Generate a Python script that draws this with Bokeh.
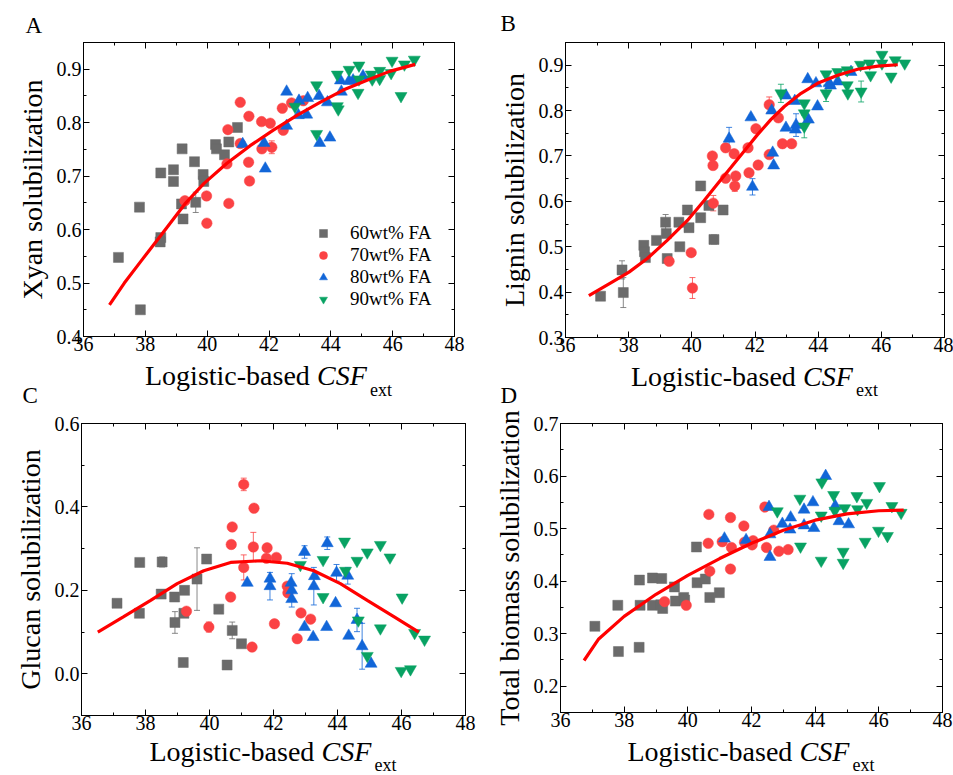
from bokeh.plotting import figure
from bokeh.layouts import column, row
from bokeh.models import (LinearAxis, FixedTicker, Range1d, Whisker, TeeHead, Label,
                          ColumnDataSource, Legend, LegendItem, NumeralTickFormatter)
from bokeh.embed import file_html
from bokeh.resources import INLINE

FONT = "Liberation Serif"
GRAY, RED, BLUE, GREEN = "#6b6b6b", "#fb4244", "#1266d8", "#08a263"
SERIES = ["60wt% FA", "70wt% FA", "80wt% FA", "90wt% FA"]
XLABEL = ["Logistic-based", "CSF", "ext"]
PANEL_LETTERS = ["A", "B", "C", "D"]
YLABELS = ["Xyan solubilization", "Lignin solubilization",
           "Glucan solubilization", "Total biomass solubilization"]

X_TICKS = [36, 38, 40, 42, 44, 46, 48]
X_MINOR = [37, 39, 41, 43, 45, 47]

# ---------------- Panel A: Xyan solubilization ----------------
A60_x = [37.13, 37.84, 37.81, 38.50, 38.50, 38.48, 38.91, 38.91, 39.19, 39.17, 39.22, 39.59, 39.63, 39.87, 39.89, 40.27, 40.30, 40.56, 40.70, 40.98]
A60_y = [0.548, 0.450, 0.642, 0.706, 0.585, 0.577, 0.712, 0.690, 0.751, 0.648, 0.620, 0.727, 0.651, 0.703, 0.690, 0.759, 0.751, 0.740, 0.764, 0.791]
A70_x = [39.28, 39.98, 39.99, 40.64, 40.67, 40.70, 41.07, 41.07, 41.35, 41.34, 41.37, 41.76, 42.04, 41.77, 42.09, 42.43, 42.46, 42.73, 43.11]
A70_y = [0.654, 0.663, 0.612, 0.723, 0.787, 0.649, 0.838, 0.761, 0.812, 0.726, 0.691, 0.802, 0.799, 0.751, 0.754, 0.827, 0.786, 0.837, 0.841]
A80_x = [41.15, 41.84, 41.88, 42.57, 42.57, 42.97, 42.95, 43.25, 43.22, 43.62, 43.89, 43.64, 43.97, 44.31, 44.59, 44.72, 45.04, 44.34]
A80_y = [0.760, 0.762, 0.714, 0.858, 0.794, 0.841, 0.814, 0.846, 0.815, 0.850, 0.838, 0.762, 0.772, 0.879, 0.878, 0.879, 0.887, 0.858]
A90_x = [42.84, 43.54, 43.54, 44.21, 44.21, 44.24, 44.59, 44.91, 44.88, 44.91, 45.31, 45.34, 45.58, 45.58, 45.95, 45.98, 46.27, 46.38, 46.70]
A90_y = [0.830, 0.870, 0.779, 0.890, 0.831, 0.825, 0.899, 0.907, 0.856, 0.881, 0.890, 0.881, 0.897, 0.882, 0.893, 0.916, 0.850, 0.909, 0.918]
A_FIT_x = [36.84, 37.32, 37.86, 38.50, 39.28, 39.89, 40.64, 41.39, 42.14, 42.89, 43.65, 44.40, 45.15, 45.90, 46.73]
A_FIT_y = [0.459, 0.500, 0.541, 0.589, 0.648, 0.686, 0.724, 0.757, 0.786, 0.813, 0.838, 0.861, 0.879, 0.896, 0.909]
A_ERR_grp = [0, 1]
A_ERR_x = [39.63, 42.09]
A_ERR_y = [0.651, 0.754]
A_ERR_e = [0.019, 0.012]

# ---------------- Panel B: Lignin solubilization ----------------
B60_x = [37.11, 37.83, 37.79, 38.48, 38.50, 38.53, 38.88, 39.17, 39.19, 39.22, 39.59, 39.62, 39.86, 39.91, 40.28, 40.28, 40.54, 40.70, 40.99]
B60_y = [0.391, 0.399, 0.449, 0.503, 0.489, 0.476, 0.514, 0.554, 0.529, 0.474, 0.554, 0.500, 0.581, 0.542, 0.564, 0.634, 0.591, 0.516, 0.581]
B70_x = [39.28, 39.98, 40.02, 40.65, 40.67, 40.68, 41.07, 41.07, 41.34, 41.39, 41.36, 41.78, 41.81, 42.03, 42.10, 42.45, 42.45, 42.74, 42.87, 43.16]
B70_y = [0.468, 0.487, 0.409, 0.700, 0.679, 0.596, 0.718, 0.651, 0.705, 0.656, 0.634, 0.718, 0.663, 0.760, 0.680, 0.813, 0.703, 0.784, 0.727, 0.727]
B80_x = [41.18, 41.87, 41.92, 42.56, 42.59, 42.53, 42.98, 42.98, 43.26, 43.30, 43.28, 43.69, 43.67, 43.93, 43.98, 44.35, 44.39, 44.62, 45.04]
B80_y = [0.738, 0.785, 0.632, 0.707, 0.679, 0.800, 0.833, 0.762, 0.821, 0.768, 0.758, 0.780, 0.869, 0.860, 0.809, 0.860, 0.855, 0.864, 0.885]
B90_x = [42.82, 43.56, 43.56, 43.56, 44.25, 44.25, 44.62, 44.92, 44.92, 44.94, 45.36, 45.34, 45.63, 45.66, 46.02, 46.02, 46.31, 46.44, 46.74]
B90_y = [0.838, 0.816, 0.794, 0.765, 0.880, 0.838, 0.885, 0.889, 0.856, 0.838, 0.842, 0.901, 0.904, 0.878, 0.923, 0.904, 0.875, 0.911, 0.904]
B_FIT_x = [36.74, 37.42, 38.01, 38.59, 39.22, 39.86, 40.39, 40.81, 41.23, 41.66, 42.08, 42.50, 42.93, 43.46, 43.98, 44.62, 45.25, 45.89, 46.52]
B_FIT_y = [0.392, 0.420, 0.444, 0.474, 0.514, 0.558, 0.602, 0.638, 0.674, 0.711, 0.747, 0.780, 0.809, 0.838, 0.860, 0.878, 0.891, 0.898, 0.901]
B_ERR_grp = [0, 0, 0, 0, 1, 1, 1, 1, 2, 2, 2, 3, 3, 3, 3]
B_ERR_x = [37.83, 37.79, 39.17, 40.70, 40.02, 40.68, 41.36, 42.45, 41.18, 41.92, 43.30, 42.82, 44.25, 45.36, 43.56]
B_ERR_y = [0.399, 0.449, 0.554, 0.516, 0.409, 0.596, 0.634, 0.813, 0.738, 0.632, 0.768, 0.838, 0.838, 0.842, 0.765]
B_ERR_e = [0.033, 0.020, 0.017, 0.010, 0.023, 0.017, 0.012, 0.017, 0.025, 0.018, 0.025, 0.020, 0.018, 0.023, 0.025]

# ---------------- Panel C: Glucan solubilization ----------------
C60_x = [37.11, 37.82, 37.81, 38.52, 38.49, 38.91, 38.92, 39.20, 39.22, 39.18, 39.61, 39.91, 40.29, 40.71, 40.55, 41.00]
C60_y = [0.169, 0.267, 0.145, 0.268, 0.191, 0.184, 0.123, 0.145, 0.200, 0.027, 0.227, 0.275, 0.155, 0.104, 0.021, 0.072]
C70_x = [39.28, 39.98, 40.66, 40.68, 40.71, 41.07, 41.07, 41.39, 41.37, 41.33, 41.80, 41.78, 42.09, 42.03, 42.43, 42.45, 42.86, 43.16, 42.74]
C70_y = [0.150, 0.112, 0.184, 0.310, 0.352, 0.454, 0.255, 0.397, 0.304, 0.064, 0.302, 0.277, 0.279, 0.120, 0.210, 0.194, 0.146, 0.131, 0.084]
C80_x = [41.18, 41.89, 41.89, 42.55, 42.57, 42.57, 42.97, 42.97, 43.28, 43.26, 43.24, 43.68, 43.66, 43.97, 43.94, 44.32, 44.35, 44.61, 44.77, 45.05]
C80_y = [0.218, 0.228, 0.210, 0.218, 0.200, 0.179, 0.292, 0.112, 0.234, 0.210, 0.088, 0.313, 0.112, 0.242, 0.169, 0.235, 0.091, 0.129, 0.066, 0.024]
C90_x = [42.84, 43.55, 43.55, 44.22, 44.25, 44.61, 44.65, 44.93, 44.93, 45.34, 45.34, 45.64, 46.02, 45.99, 46.28, 46.41, 46.72]
C90_y = [0.261, 0.273, 0.184, 0.317, 0.247, 0.271, 0.128, 0.291, 0.043, 0.309, 0.109, 0.279, 0.183, 0.007, 0.011, 0.098, 0.082]
C_FIT_x = [36.51, 37.32, 38.16, 38.99, 39.82, 40.66, 41.59, 42.43, 43.26, 44.09, 44.93, 45.76, 46.54]
C_FIT_y = [0.100, 0.137, 0.176, 0.216, 0.247, 0.267, 0.271, 0.265, 0.247, 0.216, 0.176, 0.137, 0.100]
C_ERR_grp = [0, 0, 0, 0, 1, 1, 1, 1, 2, 2, 2, 2, 2, 2, 2, 2, 2]
C_ERR_x = [39.61, 38.92, 40.71, 38.52, 41.07, 41.07, 41.37, 39.98, 44.77, 44.61, 41.89, 43.26, 43.68, 44.32, 42.57, 43.97, 42.97]
C_ERR_y = [0.227, 0.123, 0.104, 0.268, 0.454, 0.255, 0.304, 0.112, 0.066, 0.129, 0.210, 0.210, 0.313, 0.235, 0.200, 0.242, 0.292]
C_ERR_e = [0.075, 0.026, 0.020, 0.012, 0.015, 0.030, 0.035, 0.012, 0.055, 0.028, 0.033, 0.045, 0.015, 0.020, 0.040, 0.020, 0.015]

# ---------------- Panel D: Total biomass solubilization ----------------
D60_x = [37.08, 37.80, 37.82, 38.47, 38.48, 38.50, 38.89, 38.89, 39.18, 39.15, 39.21, 39.58, 39.61, 39.87, 39.90, 40.27, 40.29, 40.55, 40.69, 40.99]
D60_y = [0.314, 0.354, 0.266, 0.274, 0.402, 0.354, 0.406, 0.354, 0.405, 0.355, 0.348, 0.389, 0.362, 0.369, 0.364, 0.465, 0.397, 0.404, 0.369, 0.378]
D70_x = [39.27, 39.95, 40.66, 40.64, 40.69, 41.08, 41.34, 41.37, 41.34, 41.76, 41.78, 42.05, 42.02, 42.42, 42.47, 42.70, 42.86, 43.15]
D70_y = [0.361, 0.354, 0.527, 0.472, 0.419, 0.475, 0.521, 0.464, 0.423, 0.505, 0.474, 0.477, 0.469, 0.541, 0.464, 0.497, 0.457, 0.460]
D80_x = [41.15, 41.83, 42.55, 42.58, 42.58, 42.97, 43.23, 43.21, 43.65, 43.65, 43.93, 43.96, 44.33, 44.63, 44.75, 45.05]
D80_y = [0.481, 0.478, 0.541, 0.489, 0.446, 0.509, 0.521, 0.498, 0.536, 0.506, 0.550, 0.501, 0.600, 0.543, 0.514, 0.508]
D90_x = [42.81, 43.52, 43.54, 44.21, 44.19, 44.19, 44.58, 44.62, 44.88, 44.88, 44.93, 45.31, 45.33, 45.62, 45.57, 46.02, 45.99, 46.27, 46.41, 46.70]
D90_y = [0.533, 0.557, 0.466, 0.588, 0.525, 0.439, 0.564, 0.534, 0.456, 0.435, 0.539, 0.562, 0.537, 0.549, 0.475, 0.581, 0.496, 0.486, 0.543, 0.530]
D_FIT_x = [36.74, 37.20, 38.00, 39.00, 40.00, 41.00, 42.00, 43.00, 44.00, 45.00, 46.00, 46.78]
D_FIT_y = [0.249, 0.290, 0.333, 0.375, 0.411, 0.443, 0.472, 0.497, 0.516, 0.528, 0.534, 0.535]


COLORS = [GRAY, RED, BLUE, GREEN]
MARKERS = ["square", "circle", "triangle", "inverted_triangle"]
SIZES = [10, 10.5, 12, 12]

# ---- layout (pixels) ----
PAGE_W = 953
COL_SPLIT = 490                 # left column width
H_STRIP1, H_ROW1, H_STRIP2, H_ROW2, H_STRIP3 = 38, 321, 49, 327, 40
# frame: (left, top_in_row, width, height)
FRAMES = {
    "A": (83, 4, 371, 294),
    "B": (565, 3, 379, 295),
    "C": (81, 12, 384, 292),
    "D": (560, 15, 382, 289),
}
MID = 0.337   # baseline offset of a "middle"-anchored line, in font sizes
SUB_DROP = 11


def style_axis(ax, ticks, minor, fmt, show, standoff):
    ax.ticker = FixedTicker(ticks=ticks, minor_ticks=minor)
    ax.formatter = NumeralTickFormatter(format=fmt)
    ax.axis_line_color = "black"
    ax.axis_line_width = 1
    ax.major_tick_in = 6
    ax.major_tick_out = 0
    ax.minor_tick_in = 3
    ax.minor_tick_out = 0
    ax.major_tick_line_color = "black"
    ax.minor_tick_line_color = "black"
    ax.major_label_text_font = FONT
    ax.major_label_text_font_size = "20px"
    ax.major_label_text_color = "black"
    ax.major_label_standoff = standoff
    if not show:
        ax.major_label_overrides = {t: "" for t in ticks}
        ax.major_label_text_font_size = "0px"
        ax.major_label_standoff = 0


def make_panel(key, ylabel, yr, yticks, yminor, xs, ys, fit_x, fit_y,
               err, row_h, col_x0, col_w, legend_loc=None):
    fl, ft, fw, fh = FRAMES[key]
    bl = fl - col_x0
    br = col_w - bl - fw
    bt = ft
    bb = row_h - ft - fh
    p = figure(frame_width=fw, frame_height=fh,
               min_border_left=bl, min_border_right=br,
               min_border_top=bt, min_border_bottom=bb,
               x_range=Range1d(36, 48), y_range=Range1d(*yr),
               x_axis_type=None, y_axis_type=None,
               output_backend="svg", toolbar_location=None)
    p.outline_line_color = "black"
    p.outline_line_width = 1
    p.background_fill_color = "white"
    p.border_fill_color = "white"

    for side, show in (("below", True), ("above", False)):
        ax = LinearAxis()
        style_axis(ax, X_TICKS, X_MINOR, "0", show, 0)
        p.add_layout(ax, side)
    for side, show in (("left", True), ("right", False)):
        ax = LinearAxis()
        style_axis(ax, yticks, yminor, "0.0", show, 2)
        if show:
            ax.axis_label = ylabel
            ax.axis_label_text_font = FONT
            ax.axis_label_text_font_size = "28px"
            ax.axis_label_text_font_style = "normal"
            ax.axis_label_text_color = "black"
            ax.axis_label_standoff = 6
        p.add_layout(ax, side)

    if err is not None:
        grp, ex, ey, ee = err
        for g in range(4):
            idx = [i for i in range(len(grp)) if grp[i] == g]
            if not idx:
                continue
            src = ColumnDataSource(dict(x=[ex[i] for i in idx],
                                        up=[ey[i] + ee[i] for i in idx],
                                        lo=[ey[i] - ee[i] for i in idx]))
            w = Whisker(base="x", upper="up", lower="lo", source=src,
                        dimension="height", line_color=COLORS[g], line_width=1,
                        line_alpha=0.8,
                        upper_head=TeeHead(size=6, line_color=COLORS[g], line_alpha=0.8),
                        lower_head=TeeHead(size=6, line_color=COLORS[g], line_alpha=0.8))
            p.add_layout(w)

    rends = []
    for g in range(4):
        r = p.scatter(xs[g], ys[g], marker=MARKERS[g], size=SIZES[g],
                      fill_color=COLORS[g], line_color=COLORS[g], line_width=0.5)
        rends.append(r)
    p.line(fit_x, fit_y, line_color="#ff0000", line_width=3.2)

    if legend_loc is not None:
        leg = Legend(items=[LegendItem(label=SERIES[g], renderers=[rends[g]]) for g in range(4)],
                     location=legend_loc, border_line_color=None,
                     background_fill_alpha=0, label_text_font=FONT,
                     label_text_font_size="19px", label_text_color="black",
                     glyph_width=20, glyph_height=20, label_height=20,
                     label_standoff=17, spacing=0, padding=0, margin=0)
        p.add_layout(leg)
    return p


def put_text(s, h, xs, baselines, texts, size, style="normal"):
    for x, b, t in zip(xs, baselines, texts):
        s.add_layout(Label(x=x, y=h - (b - MID * size), x_units="screen", y_units="screen",
                           text=t, text_font=FONT, text_font_size=f"{size}px",
                           text_font_style=style, text_baseline="middle",
                           text_align="left", text_color="black"))


def strip(h, letters, xlabels):
    """Text strip: letters = [(text, x, baseline)], xlabels = [(center_x, baseline)]"""
    s = figure(width=PAGE_W, height=h, x_range=Range1d(0, PAGE_W), y_range=Range1d(0, h),
               x_axis_type=None, y_axis_type=None,
               min_border_left=0, min_border_right=0, min_border_top=0, min_border_bottom=0,
               title=None, output_backend="svg", toolbar_location=None)
    s.outline_line_color = None
    s.background_fill_color = "white"
    s.border_fill_color = "white"
    if letters:
        put_text(s, h, [l[1] for l in letters], [l[2] for l in letters],
                 [l[0] for l in letters], 23)
    if xlabels:
        x0 = [c - 124 for c, b in xlabels]
        base = [b for c, b in xlabels]
        put_text(s, h, x0, base, [XLABEL[0]] * len(x0), 28)
        put_text(s, h, [v + 172 for v in x0], base, [XLABEL[1]] * len(x0), 28, "italic")
        put_text(s, h, [v + 225 for v in x0], [b + SUB_DROP for b in base], [XLABEL[2]] * len(x0), 18)
    return s


def fcenter(k):
    fl, ft, fw, fh = FRAMES[k]
    return fl + fw / 2


pA = make_panel("A", YLABELS[0], (0.4, 0.95),
                [0.4, 0.5, 0.6, 0.7, 0.8, 0.9], [0.45, 0.55, 0.65, 0.75, 0.85, 0.95],
                [A60_x, A70_x, A80_x, A90_x], [A60_y, A70_y, A80_y, A90_y],
                A_FIT_x, A_FIT_y, (A_ERR_grp, A_ERR_x, A_ERR_y, A_ERR_e),
                H_ROW1, 0, COL_SPLIT, legend_loc=(230, 26))
pB = make_panel("B", YLABELS[1], (0.3, 0.95),
                [0.3, 0.4, 0.5, 0.6, 0.7, 0.8, 0.9], [0.35, 0.45, 0.55, 0.65, 0.75, 0.85, 0.95],
                [B60_x, B70_x, B80_x, B90_x], [B60_y, B70_y, B80_y, B90_y],
                B_FIT_x, B_FIT_y, (B_ERR_grp, B_ERR_x, B_ERR_y, B_ERR_e),
                H_ROW1, COL_SPLIT, PAGE_W - COL_SPLIT)
pC = make_panel("C", YLABELS[2], (-0.1, 0.6),
                [0.0, 0.2, 0.4, 0.6], [-0.1, 0.1, 0.3, 0.5],
                [C60_x, C70_x, C80_x, C90_x], [C60_y, C70_y, C80_y, C90_y],
                C_FIT_x, C_FIT_y, (C_ERR_grp, C_ERR_x, C_ERR_y, C_ERR_e),
                H_ROW2, 0, COL_SPLIT)
pD = make_panel("D", YLABELS[3], (0.15, 0.7),
                [0.2, 0.3, 0.4, 0.5, 0.6, 0.7], [0.15, 0.25, 0.35, 0.45, 0.55, 0.65],
                [D60_x, D70_x, D80_x, D90_x], [D60_y, D70_y, D80_y, D90_y],
                D_FIT_x, D_FIT_y, None,
                H_ROW2, COL_SPLIT, PAGE_W - COL_SPLIT)

# baselines are measured from the top of each strip
s1 = strip(H_STRIP1, [(PANEL_LETTERS[0], 25, 32.5), (PANEL_LETTERS[1], 500, 30.5)], None)
s2 = strip(H_STRIP2, [(PANEL_LETTERS[2], 22, 43.9), (PANEL_LETTERS[3], 500, 43.9)],
           [(fcenter("A"), 25.1), (fcenter("B"), 26)])
s3 = strip(H_STRIP3, None, [(fcenter("C"), 25.05), (fcenter("D"), 25.05)])

layout = column(s1, row(pA, pB), s2, row(pC, pD), s3)
open("out.html", "w").write(file_html(layout, INLINE))
